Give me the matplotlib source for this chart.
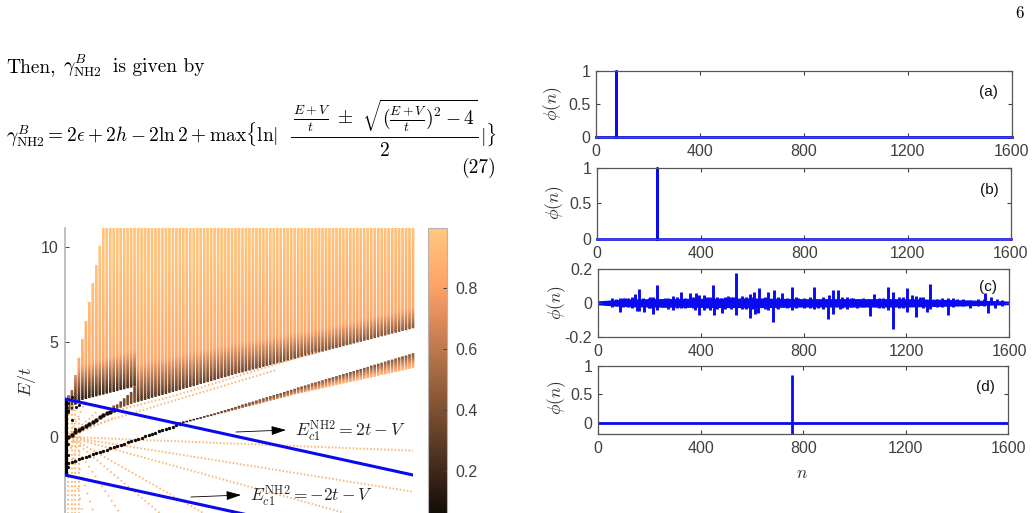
import numpy as np
import matplotlib
matplotlib.use('Agg')
import matplotlib.pyplot as plt
from matplotlib.collections import LineCollection
from matplotlib.lines import Line2D
from matplotlib.colors import Normalize
from matplotlib.cm import ScalarMappable

W = 1036
H = 513

plt.rcParams['font.family'] = ['Liberation Sans', 'DejaVu Sans']
plt.rcParams['mathtext.fontset'] = 'cm'

# ---- spectrum: one column of states every 0.04 in V ----
v_step = 0.04

# upper band, columns 1..100
band_low = [1.2, 1.4, 1.7, 1.85, 1.95, 2.0, 2.05, 2.09, 2.14, 2.19, 2.23, 2.28, 2.33, 2.37, 2.42, 2.47, 2.51, 2.56, 2.6, 2.65,
            1.85, 1.90, 1.95, 2.00, 2.06, 2.11, 2.16, 2.21, 2.26, 2.32, 2.37, 2.42, 2.47, 2.53, 2.58, 2.63, 2.68, 2.73, 2.79, 2.84,
            2.89, 2.94, 2.99, 3.05, 3.10, 3.15, 3.20, 3.26, 3.31, 3.36, 3.40, 3.45, 3.50, 3.55, 3.59, 3.64, 3.69, 3.74, 3.78, 3.83,
            3.88, 3.92, 3.97, 4.02, 4.07, 4.11, 4.16, 4.21, 4.26, 4.30, 4.35, 4.40, 4.45, 4.49, 4.54, 4.59, 4.64, 4.68, 4.73, 4.78,
            4.83, 4.87, 4.92, 4.97, 5.01, 5.06, 5.11, 5.15, 5.20, 5.25, 5.30, 5.34, 5.39, 5.44, 5.48, 5.53, 5.58, 5.62, 5.67, 5.72]
band_top_start = [2.2, 2.47, 3.26, 4.17, 5.15, 6.1, 7.1, 8.1, 9.05, 10.07]
band_top_end = 11.0

# small wedge under the upper band, columns 14..20
wedge_k = [14, 15, 16, 17, 18, 19, 20]
wedge_low = [1.42, 1.48, 1.54, 1.60, 1.67, 1.73, 1.80]
wedge_top = [1.42, 1.60, 1.78, 1.96, 2.14, 2.32, 2.58]

# lower band, columns 33..100
band2_low = [0.68, 0.73, 0.77, 0.82, 0.87, 0.92, 0.96, 1.01, 1.06, 1.10, 1.15, 1.20, 1.25, 1.29, 1.34, 1.39, 1.43, 1.48, 1.53, 1.58,
             1.62, 1.67, 1.72, 1.76, 1.81, 1.86, 1.91, 1.95, 2.00, 2.05, 2.09, 2.14, 2.19, 2.24, 2.28, 2.32, 2.36, 2.40, 2.44, 2.48,
             2.52, 2.56, 2.61, 2.65, 2.69, 2.73, 2.77, 2.81, 2.85, 2.89, 2.93, 2.97, 3.01, 3.05, 3.09, 3.13, 3.17, 3.22, 3.26, 3.30,
             3.34, 3.38, 3.42, 3.46, 3.50, 3.54, 3.58, 3.63]
band2_top = [0.68, 0.74, 0.79, 0.85, 0.91, 0.96, 1.02, 1.07, 1.13, 1.19, 1.24, 1.30, 1.36, 1.41, 1.47, 1.53, 1.58, 1.64, 1.70, 1.75,
             1.81, 1.86, 1.92, 1.98, 2.03, 2.09, 2.15, 2.20, 2.26, 2.31, 2.37, 2.43, 2.48, 2.54, 2.60, 2.65, 2.71, 2.76, 2.82, 2.87,
             2.93, 2.98, 3.04, 3.09, 3.15, 3.20, 3.25, 3.31, 3.36, 3.42, 3.47, 3.53, 3.58, 3.64, 3.69, 3.75, 3.80, 3.85, 3.91, 3.96,
             4.02, 4.07, 4.13, 4.18, 4.24, 4.29, 4.35, 4.40]

# shade at the edge of a band and how far up it fades out
shade_v = [0.0, 1.0, 2.0, 3.0, 4.0]
edge_shade = [0.12, 0.28, 0.36, 0.42, 0.45]
fade_len = [1.8, 2.0, 1.6, 1.2, 1.1]

# localised states, drawn black
black_a = [0.02, 0.13, 0.24, 0.35, 0.47, 0.58, 0.70, 0.81, 0.92, 1.03, 1.14, 1.24, 1.33, 1.42]
black_b = [-1.37, -1.31, -1.24, -1.18, -1.11, -1.05, -0.99, -0.92, -0.86, -0.79, -0.73, -0.67, -0.60, -0.54, -0.47, -0.41, -0.35,
           -0.28, -0.22, -0.15, -0.09, -0.03, 0.04, 0.10, 0.17, 0.23, 0.29, 0.36, 0.42, 0.49, 0.55, 0.61, 0.68]
black_pts_v = [0.04, 0.04, 0.13, 0.16, 0.04, 0.04, 0.04, 0.04, 0.08, 0.12, 0.08]
black_pts_e = [1.8, 1.38, 1.6, 1.68, -0.37, -0.95, -1.37, -1.6, 0.9, 0.4, 2.1]

# dotted branches: vertices read along each branch
fan_v = [[0.05, 4.0], [0.05, 4.0], [0.05, 3.2], [0.05, 1.59], [0.05, 1.09], [0.05, 0.63], [0.05, 0.33], [0.05, 0.2],
         [0.05, 0.52, 1.28, 2.89], [0.05, 0.52, 1.28, 2.43], [0.04, 0.55], [0.04, 0.36], [0.04, 0.24]]
fan_e = [[0.0, -0.72], [0.0, -2.88], [0.0, -3.98], [0.0, -4.0], [0.0, -4.0], [0.0, -4.0], [0.0, -4.0], [0.0, -4.0],
         [0.15, 1.30, 2.20, 4.49], [0.1, 0.90, 1.95, 3.53], [0.0, 1.0], [0.0, 1.3], [0.0, 1.9]]
fan_gap = [1.0, 1.05, 1.1, 1.25, 1.5, 2.2, 3.5, 4.5, 1.1, 1.1, 1.2, 1.5, 2.0]
stack_v = [0.04, 0.08, 0.12, 0.16]
stack_e = [[-4.6, 2.0], [-4.6, 2.0], [-4.6, 1.6], [-4.6, 1.0]]

# E = 2t - V and E = -2t - V
edge_v = [0.0, 4.0]
edge_upper = [2.0, -2.0]
edge_lower = [-2.0, -6.0]

# ---- amplitudes phi(n) ----
xticks_n = [0, 400, 800, 1200, 1600]
spike_a_n = [0, 77, 77, 77, 1600]
spike_a_phi = [0, 0, 1, 0, 0]
spike_b_n = [0, 231, 231, 231, 1600]
spike_b_phi = [0, 0, 1, 0, 0]
spike_d_n = [757, 757]
spike_d_phi = [0.83, -0.2]
spike_d_base_n = [0, 1600]
spike_d_base_phi = [0, 0]

c_up_n = [57, 87, 106, 145, 162, 177, 216, 232, 294, 323, 359, 381, 395, 413, 450, 479, 508, 527, 539, 592, 609, 627, 641, 663, 685,
          715, 754, 780, 842, 899, 916, 933, 968, 994, 1013, 1052, 1075, 1130, 1149, 1204, 1221, 1237, 1253, 1292, 1318, 1363,
          1395, 1447, 1506, 1528, 1551]
c_up_phi = [0.027, 0.027, 0.027, 0.051, 0.082, 0.027, 0.033, 0.106, 0.041, 0.067, 0.057, 0.057, 0.047, 0.047, 0.106, 0.031, 0.043,
            0.037, 0.176, 0.051, 0.063, 0.086, 0.027, 0.067, 0.076, 0.057, 0.094, 0.027, 0.092, 0.047, 0.073, 0.077, 0.033, 0.027,
            0.024, 0.020, 0.053, 0.096, 0.063, 0.086, 0.047, 0.043, 0.033, 0.112, 0.024, 0.029, 0.024, 0.018, 0.059, 0.033, 0.020]
c_down_n = [57, 88, 126, 152, 161, 180, 216, 232, 249, 292, 324, 346, 378, 395, 413, 437, 453, 482, 536, 592, 612, 625, 663, 683,
            696, 754, 842, 858, 897, 916, 942, 968, 1007, 1058, 1084, 1130, 1149, 1201, 1237, 1279, 1292, 1318, 1363, 1447, 1519, 1545]
c_down_phi = [-0.022, -0.055, -0.012, -0.051, -0.051, -0.055, -0.063, -0.041, -0.022, -0.041, -0.031, -0.022, -0.041, -0.071, -0.041,
              -0.041, -0.071, -0.061, -0.071, -0.090, -0.067, -0.061, -0.041, -0.114, -0.031, -0.041, -0.035, -0.031, -0.098, -0.065,
              -0.035, -0.035, -0.031, -0.080, -0.025, -0.045, -0.153, -0.055, -0.084, -0.055, -0.035, -0.025, -0.069, -0.031, -0.059, -0.031]
c_env_n = [0, 50, 120, 200, 400, 600, 800, 1000, 1200, 1400, 1500, 1600]
c_env_phi = [0.007, 0.012, 0.018, 0.020, 0.022, 0.024, 0.020, 0.020, 0.020, 0.014, 0.010, 0.006]
# small ripple between the larger peaks
c_small_n = [70, 98, 118, 135, 198, 205, 262, 275, 310, 340, 372, 425, 438, 465, 495, 518, 560, 575, 600, 650, 700, 735, 770, 800,
             825, 875, 950, 985, 1030, 1095, 1110, 1170, 1185, 1265, 1340, 1380, 1420, 1480, 1500, 1570]
c_small_hi = [0.024, 0.026, 0.030, 0.034, 0.030, 0.034, 0.028, 0.030, 0.036, 0.030, 0.034, 0.032, 0.036, 0.036, 0.034, 0.036, 0.038,
              0.034, 0.036, 0.032, 0.036, 0.030, 0.034, 0.028, 0.032, 0.034, 0.032, 0.028, 0.028, 0.030, 0.030, 0.034, 0.032, 0.032,
              0.026, 0.026, 0.022, 0.020, 0.020, 0.018]
c_small_lo = [-0.020, -0.024, -0.026, -0.030, -0.030, -0.030, -0.026, -0.034, -0.030, -0.032, -0.030, -0.032, -0.034, -0.034, -0.036,
              -0.034, -0.038, -0.036, -0.034, -0.034, -0.034, -0.030, -0.030, -0.028, -0.030, -0.034, -0.030, -0.026, -0.026, -0.028,
              -0.030, -0.032, -0.032, -0.030, -0.026, -0.024, -0.020, -0.018, -0.018, -0.016]


def panel(left, top, right, bottom):
    return fig.add_axes([left / W, 1 - bottom / H, (right - left) / W, (bottom - top) / H])


def put(x, y, s, **kw):
    kw.setdefault('color', 'k')
    fig.text(x / W, 1 - y / H, s, **kw)


def rule(x0, x1, y, **kw):
    fig.add_artist(Line2D([x0 / W, x1 / W], [1 - y / H, 1 - y / H], transform=fig.transFigure, **kw))


fig = plt.figure(figsize=(W / 100, H / 100), dpi=100)
cmap = plt.get_cmap('copper')
blue = '#0a0af0'
grey = '#404040'
dot_orange = '#fbb877'

# ---- page text ----
put(1024, 18, '6', family='cmr10', fontsize=12, ha='right', va='baseline')
put(6, 72, 'Then,', family='cmr10', fontsize=14, va='baseline')
put(63, 72, r'$\gamma^{B}_{\mathrm{NH2}}$', fontsize=14, va='baseline')
put(113, 72, 'is given by', family='cmr10', fontsize=14, va='baseline')
put(6, 142, r'$\gamma^{B}_{\mathrm{NH2}}=2\epsilon+2h-2\ln 2+\max\{\ln|$', fontsize=14, va='baseline')
put(385, 125, r'$\frac{E+V}{t}\ \pm\ \sqrt{(\frac{E+V}{t})^2-4}$', fontsize=14, va='baseline', ha='center')
rule(291, 478, 137, color='k', lw=0.7)
put(384, 156, r'$2$', fontsize=14, va='baseline', ha='center')
put(480, 142, r'$|\}$', fontsize=14, va='baseline')
put(496, 173, '(27)', family='cmr10', fontsize=14, va='baseline', ha='right')

# ---- spectrum panel, runs off the bottom of the page ----
ax = panel(65, 228, 413, 437 + 4.6 * 19)
ax.set_xlim(0, 4)
ax.set_ylim(-4.6, 11)

segs = []
vals = []
for k in range(1, 101):
    v = k * v_step
    low = band_low[k - 1]
    top = band_top_start[k - 1] if k <= len(band_top_start) else band_top_end
    shade = np.interp(v, shade_v, edge_shade)
    fade = np.interp(v, shade_v, fade_len)
    for e in np.arange(low, top, 0.1):
        d = e - low
        if d < fade:
            val = shade + (0.86 - shade) * d / fade
        else:
            val = 0.86 + 0.12 * (d - fade) / 5.0
        # overlap by a little so the column reads as one stroke
        segs.append([(v, e), (v, min(e + 0.16, top))])
        vals.append(min(0.98, val))

for k, low, top in zip(wedge_k, wedge_low, wedge_top):
    v = k * v_step
    for e in np.arange(low, max(top, low + 0.1), 0.1):
        segs.append([(v, e), (v, e + 0.14)])
        vals.append(0.38)

for i in range(len(band2_low)):
    k = 33 + i
    v = k * v_step
    low = band2_low[i]
    top = max(band2_top[i], low + 0.08)
    dark = np.interp(v, [1.32, 2.0, 4.0], [0.05, 0.30, 0.40])
    light = np.interp(v, [1.32, 2.0, 3.0, 4.0], [0.10, 0.50, 0.88, 0.92])
    for e in np.arange(low, top, 0.05):
        segs.append([(v, e), (v, min(e + 0.08, top))])
        vals.append(dark + (light - dark) * (top - e) / (top - low))

columns = LineCollection(segs, array=np.array(vals), cmap=cmap, norm=Normalize(0, 1), linewidths=1.8,
                         capstyle='butt', clip_on=False)
columns.set_snap(False)
ax.add_collection(columns)

for fv, fe, gap in zip(fan_v, fan_e, fan_gap):
    ax.plot(fv, fe, color=dot_orange, lw=1.4, dashes=(0.8, gap))
for sv, se in zip(stack_v, stack_e):
    ax.plot([sv, sv], se, color=dot_orange, lw=1.4, dashes=(0.9, 1.4))

v_a = [(i + 1) * v_step for i in range(len(black_a))]
v_b = [(i + 1) * v_step for i in range(len(black_b))]
ax.scatter(v_a, black_a, s=10, color='#140c06', linewidths=0, zorder=3)
ax.scatter(v_b, black_b, s=6, color='#140c06', linewidths=0, zorder=3)
ax.scatter(black_pts_v, black_pts_e, s=5, color='#140c06', linewidths=0, zorder=3)
ax.plot([0.015, 0.015], [edge_lower[0], edge_upper[0]], color='k', lw=2.2, zorder=3, solid_capstyle='butt')

ax.plot(edge_v, edge_upper, color=blue, lw=2.2, zorder=4)
ax.plot(edge_v, edge_lower, color=blue, lw=2.2, zorder=4)

for s in ['top', 'right', 'bottom']:
    ax.spines[s].set_visible(False)
ax.spines['left'].set_color('#b4b4b4')
ax.spines['left'].set_linewidth(1.2)
ax.set_xticks([])
ax.set_yticks([0, 5, 10])
ax.tick_params(axis='y', direction='in', length=3, width=0.7, color=grey, labelcolor=grey, labelsize=11.5, pad=5)
put(27, 382, r'$E/t$', fontsize=13, rotation=90, color='#303030', ha='center', va='center')

# arrows to the two band edges
arrow = dict(arrowstyle='-|>,head_length=0.9,head_width=0.28', color='k', lw=0.6, shrinkA=0, shrinkB=0)
ax.annotate('', xy=(286 / W, 1 - 430 / H), xytext=(236 / W, 1 - 432 / H), xycoords='figure fraction',
            textcoords='figure fraction', arrowprops=arrow)
ax.annotate('', xy=(241 / W, 1 - 495 / H), xytext=(191 / W, 1 - 497 / H), xycoords='figure fraction',
            textcoords='figure fraction', arrowprops=arrow)
put(295, 436, r'$E_{c1}^{\mathrm{NH2}}=2t-V$', fontsize=12.7, va='baseline', color='#222222')
put(250, 501, r'$E_{c1}^{\mathrm{NH2}}=-2t-V$', fontsize=12.5, va='baseline', color='#222222')

# ---- colour bar ----
cax = panel(428, 228, 447, 532)
cb = fig.colorbar(ScalarMappable(norm=Normalize(0, 0.997), cmap=cmap), cax=cax)
cb.set_ticks([0.2, 0.4, 0.6, 0.8])
cb.ax.tick_params(direction='in', length=3, width=0.7, color=grey, labelcolor=grey, labelsize=11.5, pad=6)
cb.outline.set_edgecolor('#b4b4b4')
cb.outline.set_linewidth(0.8)

# ---- amplitude panels ----
axa = panel(595.7, 70.7, 1011.7, 137.3)
axb = panel(597.3, 167.7, 1011, 238.7)
axc = panel(597.7, 269, 1009.3, 336.7)
axd = panel(598.3, 365.7, 1008.3, 434)

axa.plot(spike_a_n, spike_a_phi, color=blue, lw=2.0, clip_on=False)
axb.plot(spike_b_n, spike_b_phi, color=blue, lw=1.9, clip_on=False)
axc.fill_between(c_env_n, [-e for e in c_env_phi], c_env_phi, color=blue, lw=1.2)
axc.vlines(c_up_n, 0, c_up_phi, color=blue, lw=2.1)
axc.vlines(c_down_n, c_down_phi, 0, color=blue, lw=2.1)
axc.vlines(c_small_n, c_small_lo, c_small_hi, color=blue, lw=2.1)
axd.plot(spike_d_base_n, spike_d_base_phi, color=blue, lw=2.0)
axd.plot(spike_d_n, spike_d_phi, color=blue, lw=2.0, solid_capstyle='butt')

axa.set_ylim(0, 1)
axb.set_ylim(0, 1)
axc.set_ylim(-0.2, 0.2)
axd.set_ylim(-0.2, 1)
axa.set_yticks([0, 0.5, 1], ['0', '0.5', '1'])
axb.set_yticks([0, 0.5, 1], ['0', '0.5', '1'])
axc.set_yticks([-0.2, 0, 0.2], ['-0.2', '0', '0.2'])
axd.set_yticks([0, 0.5, 1], ['0', '0.5', '1'])

for a in [axa, axb, axc, axd]:
    a.set_xlim(0, 1600)
    a.set_xticks(xticks_n)
    a.tick_params(direction='in', length=3, width=0.8, top=True, right=True, color=grey, labelcolor=grey,
                  labelsize=11.5, pad=4)
    a.tick_params(axis='x', pad=5)
    for s in a.spines.values():
        s.set_color('#555555')
        s.set_linewidth(0.9)

for y, name, x in [(92, '(a)', 988), (190, '(b)', 989), (287, '(c)', 988), (387, '(d)', 985)]:
    put(x, y, name, fontsize=11, ha='center', va='center', color='#111111')
for x, y in [(553, 104), (555, 203), (557, 303), (557, 398)]:
    put(x, y, r'$\phi(n)$', fontsize=12.5, rotation=90, ha='center', va='center', color='#303030')
put(802, 473, r'$n$', fontsize=12.5, ha='center', va='center', color='#303030')

plt.savefig('out.png', dpi=100)
